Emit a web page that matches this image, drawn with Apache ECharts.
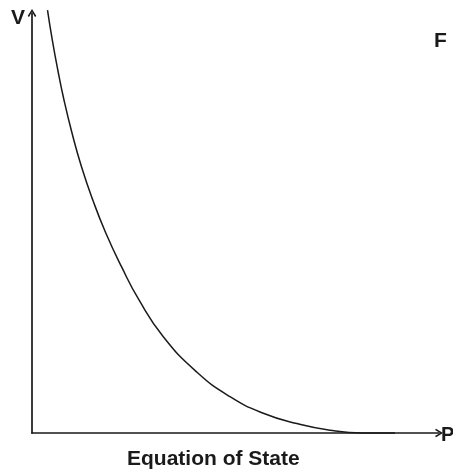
<!DOCTYPE html>
<html>
<head>
<meta charset="utf-8">
<style>
  html, body { margin: 0; padding: 0; background: #fff; }
  #chart { width: 453px; height: 471px; }
</style>
<script src="https://cdn.jsdelivr.net/npm/echarts@6/dist/echarts.min.js"></script>
</head>
<body>
<div id="chart"></div>
<script>
// Pressure (P) samples along the curve, relative units 0-100
const pressure = [3.81, 4.99, 6.34, 7.86, 9.83, 12.16, 14.94, 18.13, 21.99, 26.29,
  32.26, 40.47, 48.65, 56.83, 65.04, 73.22, 81.33, 89.19];
// Volume (V) at each pressure sample, relative units 0-100
const volume = [100.71, 93.57, 86.43, 79.29, 71.43, 63.40, 55.48, 47.62, 39.60, 31.67,
  22.93, 14.52, 8.64, 4.69, 2.24, 0.64, 0, 0];

const xName = 'P';
const yName = 'V';
const panelLabel = 'F';
const caption = 'Equation of State';

const ink = '#1a1a1a';
const font = '"Liberation Sans", Arial, sans-serif';
// open chevron used as the axis arrow head (points up in symbol space)
const chevron = 'path://M5,0 L10,8 L8.4,9.2 L5,3.2 L1.6,9.2 L0,8 Z';

const chart = echarts.init(document.getElementById('chart'), null, { renderer: 'canvas' });

const axisBase = {
  type: 'value',
  min: 0,
  max: 100,
  axisTick: { show: false },
  axisLabel: { show: false },
  splitLine: { show: false },
  axisLine: {
    show: true,
    onZero: false,
    symbol: ['none', chevron],
    symbolSize: [9, 8],
    symbolOffset: [0, 0],
    lineStyle: { color: ink, width: 1.7 }
  }
};

chart.setOption({
  animation: false,
  backgroundColor: '#fff',
  grid: { left: 32, right: 14, top: 13, bottom: 38 },
  title: {
    text: caption,
    left: 122,
    top: 444,
    textStyle: { fontFamily: font, fontWeight: 'bold', fontSize: 21, color: ink }
  },
  xAxis: Object.assign({}, axisBase),
  yAxis: Object.assign({}, axisBase),
  graphic: [
    { type: 'text', left: 11, top: 8, style: { text: yName, font: 'bold 21px ' + font, fill: ink } },
    { type: 'text', left: 441, top: 425, style: { text: xName, font: 'bold 20px ' + font, fill: ink } },
    { type: 'text', left: 434, top: 31, style: { text: panelLabel, font: 'bold 21px ' + font, fill: ink } }
  ],
  series: [{
    type: 'line',
    data: pressure.map((p, i) => [p, volume[i]]),
    smooth: 0.5,
    showSymbol: false,
    clip: false,
    lineStyle: { color: ink, width: 1.5 }
  }]
});
</script>
</body>
</html>
